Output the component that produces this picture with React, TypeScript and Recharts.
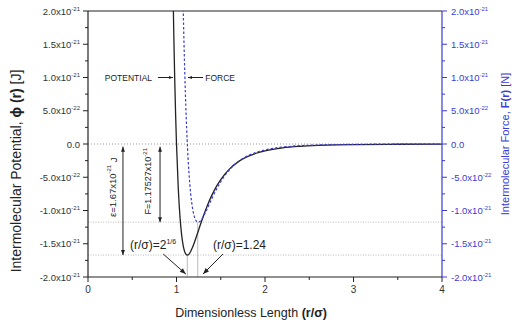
import React from 'react';
import { LineChart, Line, XAxis, YAxis, ReferenceLine, ReferenceDot } from 'recharts';

// values in units of 1e-21
const potentialR = [0.96, 0.97, 0.98, 0.99, 1.0, 1.02, 1.04, 1.06, 1.08, 1.10, 1.12, 1.14, 1.16, 1.18, 1.20, 1.25, 1.30, 1.35, 1.40, 1.45, 1.50, 1.60, 1.70, 1.80, 1.90, 2.0, 2.2, 2.4, 2.6, 2.8, 3.0, 3.5, 4.0];
const potentialVals = [2.368, 1.608, 0.972, 0.441, 0, -0.665, -1.107, -1.389, -1.557, -1.642, -1.670, -1.657, -1.616, -1.558, -1.488, -1.292, -1.097, -0.921, -0.769, -0.641, -0.535, -0.374, -0.265, -0.191, -0.139, -0.103, -0.058, -0.035, -0.022, -0.014, -0.009, -0.004, -0.002];

const forceR = [1.07, 1.08, 1.09, 1.10, 1.12, 1.14, 1.16, 1.18, 1.20, 1.22, 1.24, 1.26, 1.28, 1.30, 1.35, 1.40, 1.45, 1.50, 1.60, 1.70, 1.80, 1.90, 2.0, 2.2, 2.4, 2.6, 2.8, 3.0, 3.5, 4.0];
const forceVals = [2.438, 1.788, 1.240, 0.779, 0.071, -0.418, -0.746, -0.957, -1.085, -1.151, -1.175, -1.168, -1.140, -1.099, -0.964, -0.820, -0.686, -0.568, -0.386, -0.263, -0.181, -0.126, -0.089, -0.046, -0.025, -0.015, -0.009, -0.005, -0.002, -0.001];

const xTicks = [0, 0.5, 1, 1.5, 2, 2.5, 3, 3.5, 4];
const xMajor = [0, 1, 2, 3, 4];
const yTicks = [-2, -1.75, -1.5, -1.25, -1, -0.75, -0.5, -0.25, 0, 0.25, 0.5, 0.75, 1, 1.25, 1.5, 1.75, 2];
const yMajorLabels: Record<string, [string, string]> = {
  '2': ['2.0x10', '-21'],
  '1.5': ['1.5x10', '-21'],
  '1': ['1.0x10', '-21'],
  '0.5': ['5.0x10', '-22'],
  '0': ['0.0', ''],
  '-0.5': ['-5.0x10', '-22'],
  '-1': ['-1.0x10', '-21'],
  '-1.5': ['-1.5x10', '-21'],
  '-2': ['-2.0x10', '-21'],
};

const epsilon = -1.67;
const forceMin = -1.175;
const rMinPot = 1.122;
const rMinForce = 1.24;

const potentialData = potentialR.map((r, i) => ({ r, v: potentialVals[i] }));
const forceData = forceR.map((r, i) => ({ r, v: forceVals[i] }));

const BLUE = '#3b3bd4';
const DARK = '#222';
const FONT = 'Liberation Sans, Arial, sans-serif';

const LeftTick = (p: any) => {
  const { x, y, payload } = p;
  const lab = yMajorLabels[String(payload.value)];
  const major = !!lab;
  return (
    <g>
      <line x1={x} x2={x - (major ? 5 : 3)} y1={y} y2={y} stroke={DARK} strokeWidth={1} />
      {major && (
        <text x={x - 8} y={y + 3.5} textAnchor="end" fontSize={9.5} fill="#333" fontFamily={FONT}>
          {lab[0]}
          {lab[1] && <tspan dy={-4} fontSize={6}>{lab[1]}</tspan>}
        </text>
      )}
    </g>
  );
};

const RightTick = (p: any) => {
  const { x, y, payload } = p;
  const lab = yMajorLabels[String(payload.value)];
  const major = !!lab;
  return (
    <g>
      <line x1={x} x2={x + (major ? 5 : 3)} y1={y} y2={y} stroke={BLUE} strokeWidth={1} />
      {major && (
        <text x={x + 9} y={y + 3.5} textAnchor="start" fontSize={9.5} fill={BLUE} fontFamily={FONT}>
          {lab[0]}
          {lab[1] && <tspan dy={-4} fontSize={6}>{lab[1]}</tspan>}
        </text>
      )}
    </g>
  );
};

const BottomTick = (p: any) => {
  const { x, y, payload } = p;
  const major = xMajor.includes(payload.value);
  return (
    <g>
      <line x1={x} x2={x} y1={y} y2={y + (major ? 5 : 3)} stroke={DARK} strokeWidth={1} />
      {major && (
        <text x={x} y={y + 16} textAnchor="middle" fontSize={10} fill="#333" fontFamily={FONT}>
          {payload.value}
        </text>
      )}
    </g>
  );
};

const LeftTitle = (p: any) => {
  const vb = p.viewBox || { x: 0, y: 11, width: 88, height: 266 };
  const cx = vb.x + 16;
  const cy = vb.y + vb.height / 2 + 27;
  return (
    <text x={cx} y={cy} transform={`rotate(-90 ${cx} ${cy})`} textAnchor="middle" dominantBaseline="central" fontSize={14} fill="#222" fontFamily={FONT}>
      Intermolecular Potential, <tspan fontWeight="bold">ϕ (r)</tspan> [J]
    </text>
  );
};

const RightTitle = (p: any) => {
  const vb = p.viewBox || { x: 442, y: 11, width: 73, height: 266 };
  const cx = vb.x + 63;
  const cy = vb.y + vb.height / 2;
  return (
    <text x={cx} y={cy} transform={`rotate(-90 ${cx} ${cy})`} textAnchor="middle" dominantBaseline="central" fontSize={11} fill={BLUE} fontFamily={FONT}>
      Intermolecular Force, <tspan fontWeight="bold">F(r)</tspan> [N]
    </text>
  );
};

const BottomTitle = (p: any) => {
  const vb = p.viewBox || { x: 88, y: 277, width: 354, height: 49 };
  const cx = vb.x + vb.width / 2 - 14;
  const cy = vb.y + 40;
  return (
    <text x={cx} y={cy} textAnchor="middle" fontSize={12.5} fill="#222" fontFamily={FONT}>
      Dimensionless Length <tspan fontWeight="bold">(r/σ)</tspan>
    </text>
  );
};

const head = (xa: number, ya: number, xb: number, yb: number, size: number, color: string, key: string) => {
  const dx = xb - xa;
  const dy = yb - ya;
  const len = Math.sqrt(dx * dx + dy * dy) || 1;
  const ux = dx / len;
  const uy = dy / len;
  const bx = xb - ux * size;
  const by = yb - uy * size;
  const w = size * 0.4;
  const pts = `${xb},${yb} ${bx - uy * w},${by + ux * w} ${bx + uy * w},${by - ux * w}`;
  return <polygon key={key} points={pts} fill={color} />;
};

const arrowShape = (both: boolean, color: string, size: number) => (p: any) => {
  const { x1, y1, x2, y2 } = p;
  return (
    <g>
      <line x1={x1} y1={y1} x2={x2} y2={y2} stroke={color} strokeWidth={1} />
      {head(x1, y1, x2, y2, size, color, 'e')}
      {both && head(x2, y2, x1, y1, size, color, 's')}
    </g>
  );
};

const textShape = (content: React.ReactNode, opts: { size: number; anchor?: string; rotate?: boolean; color?: string }) => (p: any) => {
  const { cx, cy } = p;
  return (
    <text
      x={cx}
      y={cy}
      transform={opts.rotate ? `rotate(-90 ${cx} ${cy})` : undefined}
      textAnchor={opts.anchor || 'start'}
      dominantBaseline={opts.rotate ? 'central' : undefined}
      fontSize={opts.size}
      fill={opts.color || '#222'}
      fontFamily={FONT}
    >
      {content}
    </text>
  );
};

export default function App() {
  return (
    <div style={{ position: 'absolute', left: 0, top: 0 }}>
      <LineChart width={515} height={326} margin={{ top: 11, right: 0, bottom: 0, left: 0 }}>
        <XAxis
          type="number"
          dataKey="r"
          xAxisId="x"
          domain={[0, 4]}
          ticks={xTicks}
          interval={0}
          height={49}
          tickSize={0}
          tickMargin={0}
          tickLine={false}
          tick={<BottomTick />}
          axisLine={{ stroke: DARK, strokeWidth: 1.2 }}
          allowDataOverflow
          label={<BottomTitle />}
        />
        <YAxis
          yAxisId="left"
          type="number"
          domain={[-2, 2]}
          ticks={yTicks}
          interval={0}
          width={88}
          tickSize={0}
          tickMargin={0}
          tickLine={false}
          tick={<LeftTick />}
          axisLine={{ stroke: DARK, strokeWidth: 1.2 }}
          allowDataOverflow
          label={<LeftTitle />}
        />
        <YAxis
          yAxisId="right"
          orientation="right"
          type="number"
          domain={[-2, 2]}
          ticks={yTicks}
          interval={0}
          width={73}
          tickSize={0}
          tickMargin={0}
          tickLine={false}
          tick={<RightTick />}
          axisLine={{ stroke: BLUE, strokeWidth: 1.2 }}
          allowDataOverflow
          label={<RightTitle />}
        />

        <ReferenceLine xAxisId="x" yAxisId="left" y={2} stroke={DARK} strokeWidth={1.2} />
        <ReferenceLine xAxisId="x" yAxisId="left" y={0} stroke="#999" strokeDasharray="1 2" />
        <ReferenceLine xAxisId="x" yAxisId="left" y={forceMin} stroke="#bbb" strokeDasharray="1 1.5" />
        <ReferenceLine xAxisId="x" yAxisId="left" y={epsilon} stroke="#bbb" strokeDasharray="1 1.5" />
        <ReferenceLine xAxisId="x" yAxisId="left" segment={[{ x: rMinPot, y: -2 }, { x: rMinPot, y: epsilon }]} stroke="#bbb" />
        <ReferenceLine xAxisId="x" yAxisId="left" segment={[{ x: rMinForce, y: -2 }, { x: rMinForce, y: forceMin }]} stroke="#bbb" />

        <Line
          xAxisId="x"
          yAxisId="left"
          data={potentialData}
          dataKey="v"
          type="monotone"
          stroke={DARK}
          strokeWidth={1.3}
          dot={false}
          isAnimationActive={false}
        />
        <Line
          xAxisId="x"
          yAxisId="right"
          data={forceData}
          dataKey="v"
          type="monotone"
          stroke={BLUE}
          strokeWidth={1.2}
          strokeDasharray="2.5 2"
          dot={false}
          isAnimationActive={false}
        />

        <ReferenceLine xAxisId="x" yAxisId="left" segment={[{ x: 0.395, y: -0.04 }, { x: 0.395, y: epsilon }]} shape={arrowShape(true, DARK, 5)} />
        <ReferenceLine xAxisId="x" yAxisId="left" segment={[{ x: 0.814, y: -0.04 }, { x: 0.814, y: forceMin }]} shape={arrowShape(true, DARK, 5)} />
        <ReferenceDot xAxisId="x" yAxisId="left" x={0.28} y={-0.65} r={0} shape={textShape(<>ε=1.67x10<tspan dy={-3.5} fontSize={6}>-21</tspan><tspan dy={3.5}> J</tspan></>, { size: 9.5, anchor: 'middle', rotate: true })} />
        <ReferenceDot xAxisId="x" yAxisId="left" x={0.68} y={-0.56} r={0} shape={textShape(<>F=1.17527x10<tspan dy={-3.5} fontSize={6}>-21</tspan></>, { size: 9, anchor: 'middle', rotate: true })} />

        <ReferenceDot xAxisId="x" yAxisId="left" x={0.475} y={-1.58} r={0} shape={textShape(<>(r/σ)=2<tspan dy={-5} fontSize={7}>1/6</tspan></>, { size: 12 })} />
        <ReferenceDot xAxisId="x" yAxisId="left" x={1.412} y={-1.58} r={0} shape={textShape(<>(r/σ)=1.24</>, { size: 12 })} />
        <ReferenceLine xAxisId="x" yAxisId="left" segment={[{ x: 0.85, y: -1.654 }, { x: 1.105, y: -1.955 }]} shape={arrowShape(false, DARK, 6)} />
        <ReferenceLine xAxisId="x" yAxisId="left" segment={[{ x: 1.525, y: -1.654 }, { x: 1.30, y: -1.955 }]} shape={arrowShape(false, DARK, 6)} />

        <ReferenceDot xAxisId="x" yAxisId="left" x={0.19} y={0.95} r={0} shape={textShape('POTENTIAL', { size: 8.5 })} />
        <ReferenceLine xAxisId="x" yAxisId="left" segment={[{ x: 0.79, y: 1.0 }, { x: 0.96, y: 1.0 }]} shape={arrowShape(false, DARK, 4)} />
        <ReferenceDot xAxisId="x" yAxisId="left" x={1.325} y={0.95} r={0} shape={textShape('FORCE', { size: 8.5 })} />
        <ReferenceLine xAxisId="x" yAxisId="left" segment={[{ x: 1.30, y: 1.0 }, { x: 1.13, y: 1.0 }]} shape={arrowShape(false, DARK, 4)} />
      </LineChart>
    </div>
  );
}
